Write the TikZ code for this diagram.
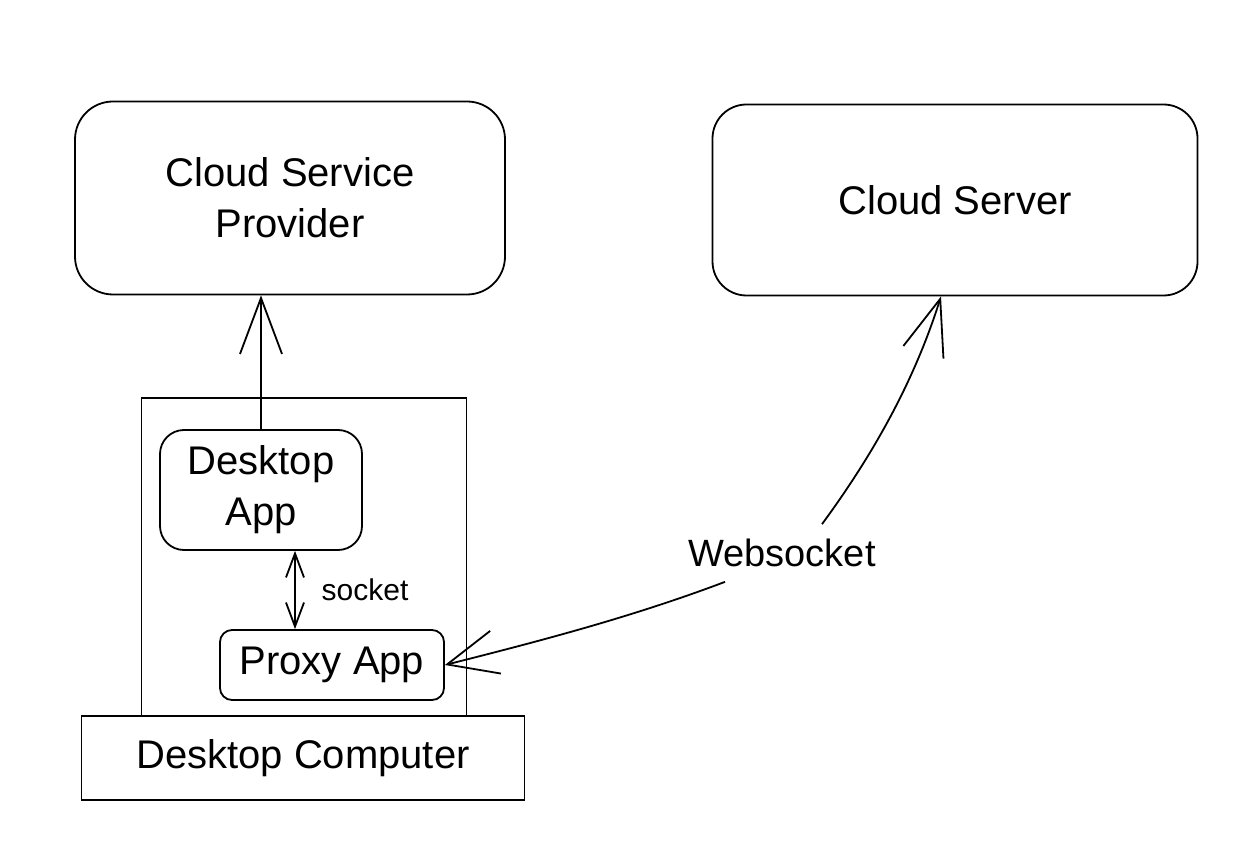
\documentclass[tikz,border=0pt]{standalone}
\usepackage{fontspec}
\setmainfont{Liberation Sans}
\usetikzlibrary{arrows.meta}

\begin{document}
\begin{tikzpicture}[x=1pt,y=-1pt,line width=1.8pt]
\tikzstyle{every node}=[inner sep=0pt, align=center, font=\fontsize{40}{51}\selectfont]
\tikzstyle{box}=[draw, rounded corners=38pt]
\tikzstyle{tip}=[-{Straight Barb[length=56pt,width=42pt]}]
\tikzstyle{smalltip}=[{Straight Barb[length=24pt,width=18pt]}-{Straight Barb[length=24pt,width=18pt]}]
\useasboundingbox (0,0) rectangle (1236,858);
\draw (290,198) node (csp) [box, minimum width=430pt, minimum height=193pt] {Cloud Service\\Provider};
\draw (955,200) node (cs) [box, rounded corners=34pt, minimum width=485pt, minimum height=191pt] {Cloud Server};
\draw (304,558) node (pc) [draw, minimum width=325pt, minimum height=320pt] {};
\draw (261,490) node (dapp) [box, rounded corners=24pt, minimum width=202pt, minimum height=120pt] {Desktop\\App};
\draw (332,665) node (proxy) [box, rounded corners=12pt, minimum width=224pt, minimum height=70pt] {Proxy App};
\draw (303,758) node (dc) [draw, fill=white, line width=1.4pt, minimum width=443pt, minimum height=84pt] {Desktop Computer};
\draw (365,590) node (sock) [font=\fontsize{30}{36}\selectfont] {socket};
\draw (782,553) node (ws) [font=\fontsize{38}{46}\selectfont, inner sep=14pt] {Websocket};
\draw[tip] (dapp) -- (dapp |- csp.south);
\draw[smalltip] ([xshift=34pt]dapp.south) -- ([xshift=-37pt]proxy.north);
\draw[tip, -{Straight Barb[length=50pt,width=44pt]}] ([xshift=-57pt]ws.south) .. controls (632,617) and (540,641) .. (proxy.east);
\draw[tip] ([xshift=40pt]ws.north) .. controls (875,452) and (915,379) .. ([xshift=-14pt]cs.south);
\end{tikzpicture}
\end{document}
